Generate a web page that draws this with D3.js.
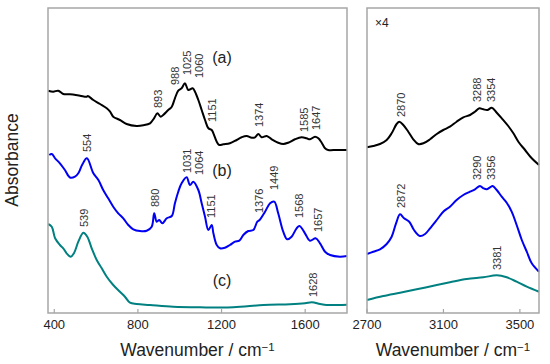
<!DOCTYPE html>
<html>
<head>
<meta charset="utf-8">
<script src="https://cdn.jsdelivr.net/npm/d3@7"></script>
<style>
  body { margin: 0; background: #fff; }
  svg { font-family: "Liberation Sans", Arial, sans-serif; }
  .frame { fill: none; stroke: #a6a6a6; stroke-width: 1.5; }
  .tick-mark { stroke: #a6a6a6; stroke-width: 1.2; }
  .tick-label { font-size: 13px; fill: #222; }
  .axis-title { font-size: 17.5px; fill: #222; }
  .peak { font-size: 11px; fill: #333; }
  .spectrum { fill: none; stroke-width: 2; stroke-linejoin: round; }
</style>
</head>
<body>
<div id="chart"></div>
<script>
// spectra: [wavenumber, absorbance (a.u.)]
const lowA = [[371,2.223],[395,2.213],[419,2.223],[443,2.19],[475,2.187],[523,2.173],[555,2.163],[560,2.17],[587,2.13],[619,2.09],[651,2.047],[667,2.013],[682,1.963],[714,1.93],[746,1.89],[794,1.87],[826,1.877],[858,1.897],[877,1.947],[893,1.997],[909,1.963],[921,1.98],[945,2.03],[962,2.063],[977,2.147],[993,2.223],[1009,2.247],[1025,2.297],[1041,2.23],[1062,2.247],[1073,2.213],[1089,2.13],[1105,2.03],[1121,1.93],[1137,1.847],[1153,1.83],[1161,1.797],[1177,1.713],[1189,1.68],[1208,1.687],[1240,1.697],[1272,1.73],[1296,1.757],[1320,1.77],[1344,1.753],[1360,1.757],[1376,1.79],[1392,1.757],[1416,1.77],[1440,1.737],[1471,1.703],[1495,1.69],[1519,1.703],[1551,1.737],[1583,1.757],[1607,1.747],[1623,1.737],[1647,1.763],[1663,1.747],[1679,1.703],[1695,1.647],[1710,1.63],[1751,1.63],[1800,1.63]];
const lowB = [[376,1.58],[388,1.59],[404,1.547],[427,1.497],[451,1.43],[475,1.355],[499,1.363],[515,1.397],[533,1.48],[556,1.547],[587,1.397],[611,1.33],[634,1.23],[658,1.147],[682,1.063],[706,0.997],[730,0.947],[754,0.88],[778,0.837],[810,0.82],[842,0.823],[866,0.863],[878,0.997],[890,0.913],[902,0.93],[917,0.897],[938,0.947],[962,0.97],[977,1.097],[993,1.213],[1009,1.297],[1033,1.357],[1049,1.28],[1065,1.313],[1089,1.23],[1105,1.097],[1121,0.963],[1137,0.83],[1153,0.88],[1161,0.797],[1177,0.68],[1193,0.647],[1216,0.653],[1240,0.68],[1264,0.713],[1285,0.723],[1304,0.78],[1328,0.82],[1352,0.83],[1371,0.913],[1382,0.93],[1408,1.013],[1432,1.097],[1452,1.113],[1471,0.997],[1495,0.813],[1514,0.737],[1535,0.763],[1559,0.847],[1573,0.87],[1599,0.797],[1623,0.723],[1650,0.747],[1671,0.697],[1695,0.613],[1719,0.58],[1766,0.563],[1800,0.57]];
const lowC = [[371,0.89],[388,0.863],[404,0.747],[427,0.68],[443,0.647],[459,0.597],[479,0.563],[494,0.597],[515,0.713],[539,0.803],[558,0.763],[579,0.647],[603,0.53],[627,0.447],[651,0.363],[682,0.28],[714,0.213],[738,0.163],[762,0.103],[794,0.09],[858,0.08],[969,0.063],[1097,0.057],[1256,0.057],[1400,0.08],[1527,0.087],[1599,0.097],[1632,0.107],[1671,0.09],[1703,0.08],[1800,0.083]];

const highA = [[2700,1.657],[2733,1.67],[2768,1.69],[2803,1.73],[2829,1.797],[2855,1.89],[2869,1.913],[2890,1.88],[2916,1.813],[2942,1.737],[2968,1.69],[2995,1.697],[3030,1.737],[3065,1.79],[3099,1.83],[3134,1.863],[3169,1.913],[3204,1.957],[3239,1.98],[3265,2.013],[3288,2.047],[3309,2.037],[3330,2.03],[3353,2.053],[3379,2.003],[3405,1.947],[3439,1.87],[3466,1.797],[3492,1.713],[3527,1.63],[3562,1.547],[3600,1.48]];
const highB = [[2700,0.59],[2733,0.613],[2768,0.637],[2803,0.69],[2829,0.763],[2852,0.897],[2873,0.987],[2894,0.947],[2921,0.913],[2946,0.83],[2977,0.77],[3004,0.79],[3030,0.847],[3065,0.93],[3099,1.013],[3134,1.063],[3169,1.13],[3204,1.18],[3239,1.213],[3265,1.237],[3291,1.27],[3309,1.247],[3326,1.237],[3344,1.257],[3358,1.27],[3379,1.23],[3405,1.163],[3431,1.103],[3457,1.013],[3483,0.88],[3510,0.73],[3536,0.613],[3562,0.497],[3600,0.413]];
const highC = [[2700,0.13],[2785,0.17],[2873,0.203],[2960,0.237],[3065,0.28],[3134,0.307],[3222,0.34],[3309,0.357],[3379,0.377],[3431,0.357],[3483,0.313],[3536,0.263],[3600,0.213]];

const lowTicks = [400, 800, 1200, 1600];
const highTicks = [2700, 3100, 3500];

// peak labels: [text, wavenumber where drawn, absorbance at label foot]
const lowLabels = [
  ["893", 896, 2.05], ["988", 977, 2.28], ["1025", 1035, 2.38], ["1060", 1092, 2.35],
  ["1151", 1154, 1.91], ["1374", 1379, 1.86], ["1585", 1594, 1.81], ["1647", 1652, 1.83],
  ["554", 555, 1.61], ["880", 882, 1.06], ["1031", 1035, 1.40], ["1064", 1092, 1.38],
  ["1151", 1152, 0.95], ["1376", 1379, 1.00], ["1449", 1451, 1.23], ["1568", 1570, 0.95],
  ["1657", 1661, 0.81], ["539", 542, 0.86], ["1628", 1637, 0.16]
];
const highLabels = [
  ["2870", 2878, 1.96], ["3288", 3278, 2.11], ["3354", 3348, 2.11],
  ["2872", 2878, 1.05], ["3290", 3278, 1.33], ["3356", 3348, 1.33], ["3381", 3380, 0.43]
];
// sample letters: [text, wavenumber, absorbance]
const sampleTags = [["(a)", 1202, 2.56], ["(b)", 1202, 1.43], ["(c)", 1202, 0.33]];

const colors = ["#000000", "#0000f2", "#008080"];

const W = 550, H = 364;
const plotTop = 8, plotBottom = 313;

const svg = d3.select("#chart").append("svg")
  .attr("width", W).attr("height", H);

const y = d3.scaleLinear().domain([0, 3.05]).range([plotBottom, plotTop]);

function panel(xDomain, xRange, series, ticks, labels) {
  const x = d3.scaleLinear().domain(xDomain).range(xRange);
  const g = svg.append("g");

  const line = d3.line()
    .x((d) => x(d[0]))
    .y((d) => y(d[1]))
    .curve(d3.curveCatmullRom.alpha(0.5));

  g.selectAll(".spectrum")
    .data(series)
    .enter()
    .append("path")
    .attr("class", "spectrum")
    .attr("stroke", (d, i) => colors[i])
    .attr("d", line);

  // frame
  g.append("rect")
    .attr("class", "frame")
    .attr("x", xRange[0]).attr("y", plotTop)
    .attr("width", xRange[1] - xRange[0])
    .attr("height", plotBottom - plotTop);

  // inward ticks on the bottom
  g.selectAll(".tick-mark")
    .data(ticks)
    .enter()
    .append("line")
    .attr("class", "tick-mark")
    .attr("x1", (d) => x(d)).attr("x2", (d) => x(d))
    .attr("y1", plotBottom).attr("y2", plotBottom - 4);

  g.selectAll(".tick-label")
    .data(ticks)
    .enter()
    .append("text")
    .attr("class", "tick-label")
    .attr("x", (d) => x(d))
    .attr("y", plotBottom + 16)
    .attr("text-anchor", "middle")
    .text((d) => d);

  // rotated peak labels
  g.selectAll(".peak")
    .data(labels)
    .enter()
    .append("text")
    .attr("class", "peak")
    .attr("x", (d) => x(d[1]))
    .attr("y", (d) => y(d[2]))
    .attr("dy", "0.36em")
    .attr("transform", (d) => `rotate(-90,${x(d[1])},${y(d[2])})`)
    .text((d) => d[0]);

  const title = g.append("text")
    .attr("class", "axis-title")
    .attr("x", (xRange[0] + xRange[1]) / 2)
    .attr("y", 356)
    .attr("text-anchor", "middle");
  title.append("tspan").text("Wavenumber / cm");
  title.append("tspan").attr("dy", "-0.45em").style("font-size", "11.5px").text("\u22121");

  return x;
}

const xLow = panel([370, 1800], [48, 347], [lowA, lowB, lowC], lowTicks, lowLabels);
panel([2700, 3600], [367, 539], [highA, highB, highC], highTicks, highLabels);

svg.selectAll(".tag")
  .data(sampleTags)
  .enter()
  .append("text")
  .attr("class", "tag")
  .attr("x", (d) => xLow(d[1]))
  .attr("y", (d) => y(d[2]))
  .attr("text-anchor", "middle")
  .attr("dy", "0.35em")
  .style("font-size", "16px")
  .style("fill", "#222")
  .text((d) => d[0]);

svg.append("text")
  .attr("x", 375).attr("y", 27)
  .style("font-size", "12px")
  .style("fill", "#222")
  .text("\u00d74");

svg.append("text")
  .attr("class", "axis-title")
  .attr("transform", "translate(18,160) rotate(-90)")
  .attr("text-anchor", "middle")
  .text("Absorbance");
</script>
</body>
</html>
